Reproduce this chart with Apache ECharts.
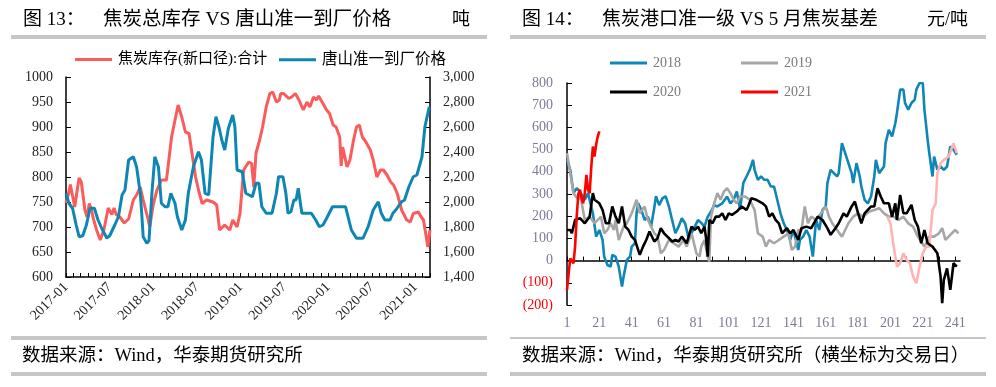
<!DOCTYPE html>
<html><head><meta charset="utf-8">
<script src="https://cdn.jsdelivr.net/npm/echarts@6/dist/echarts.min.js"></script>
<style>html,body{margin:0;padding:0;background:#fff}#c{width:996px;height:387px}</style>
</head><body><div id="c"></div>
<script>
// ---------- Chart 13: coke inventory vs Tangshan price (x = months since 2017-01) ----------
const invX = [0,0.4,0.6,0.9,1.2,1.5,1.8,2.1,2.6,2.9,3.2,3.5,3.7,4.2,4.7,5.2,5.8,6.3,6.6,6.9,7.4,8.0,8.6,9.25,9.7,10.2,10.6,11.3,11.5,12.0,12.5,13.1,13.8,14.5,15.4,15.9,16.4,16.9,17.3,17.8,18.2,18.7,19.3,20.2,20.7,21.1,21.8,22.5,22.9,23.5,23.9,24.4,25.1,25.5,25.8,26.1,26.6,27.0,27.5,28.0,28.4,28.9,29.3,29.5,29.9,30.6,31.0,31.5,32.0,32.6,33.1,33.5,34.0,34.4,34.7,35.3,35.8,36.2,36.7,37.1,37.6,37.8,38.0,38.6,39.0,39.5,39.9,40.3,40.7,41.2,41.8,42.2,42.7,43.2,43.6,44.1,44.6,45.0,45.5,46.1,46.8,47.3,47.7,48.4,48.8,49.1,49.4,49.7,50.0];
const invY = [748,770,785,762,740,770,798,790,734,720,747,735,720,694,674,694,738,725,738,725,720,708,716,754,764,780,754,714,700,746,774,794,794,880,944,920,890,887,848,800,774,747,754,750,744,694,704,694,714,700,727,814,830,827,780,848,874,900,940,967,970,950,954,967,967,957,960,967,954,934,950,940,960,954,962,947,934,927,904,900,880,822,860,820,834,874,900,904,880,870,854,834,800,814,814,804,790,784,767,734,714,710,727,730,720,714,688,660,694];
const priceX = [0,0.4,0.9,1.4,1.8,2.3,2.8,3.3,3.9,4.4,4.9,5.6,6.0,6.7,7.2,7.7,8.1,8.6,9.25,9.7,10.2,10.4,10.6,11.1,11.4,11.8,12.2,12.7,13.1,13.6,14.0,14.4,14.97,15.3,15.9,16.4,16.8,17.5,18.2,18.6,19.1,19.6,20.2,20.6,21.0,21.4,21.8,22.3,22.9,23.2,23.5,24.2,24.7,25.6,26.1,26.5,26.9,27.5,28.3,28.9,29.2,29.8,30.2,30.5,30.9,31.3,31.6,31.9,32.4,33.7,34.3,34.8,35.3,35.8,36.6,38.0,38.4,39.2,39.9,40.8,41.5,42.2,42.9,43.3,43.8,44.5,44.9,45.3,46.1,46.5,47.1,47.7,48.2,48.9,49.3,49.9];
const priceY = [2070,1990,1950,1816,1722,1730,1816,1950,1950,1856,1790,1712,1730,1816,1882,2056,2096,2336,2362,2280,2070,1910,1722,1670,1690,2070,2362,2280,1990,1962,1962,2070,1990,1882,1776,1856,2070,2282,2402,2336,2070,2056,2522,2682,2602,2496,2416,2588,2696,2602,2256,2242,2070,2042,2150,2150,1962,1910,1910,2070,2202,2202,2070,1910,1922,2016,2016,2110,1910,1910,1856,1802,1816,1870,1962,1962,1962,1776,1710,1710,1802,1936,2002,1910,1856,1856,1910,1936,2002,2016,2122,2202,2216,2362,2602,2762];
const invName = '焦炭库存(新口径):合计';
const priceName = '唐山准一到厂价格';
const leftLabelMonths = [0,6,12,18,24,30,36,42,48];
const leftTickLabels = ['2017-01','2017-07','2018-01','2018-07','2019-01','2019-07','2020-01','2020-07','2021-01'];

// ---------- Chart 14: coke port price vs May basis (x = trading day) ----------
const y2018X = [1,3,5,7,9,12,14,17,19,21,23,24,26,28,29,31,33,35,36,38,40,41,43,44,45,47,49,51,53,55,56,58,60,62,64,66,68,70,72,74,76,78,80,82,84,86,88,90,92,94,97,100,102,104,106,108,110,112,114,116,117,119,121,123,125,127,129,131,133,135,137,139,141,144,145,147,149,151,153,155,157,159,161,162,164,166,168,169,171,173,175,177,178,180,182,183,185,187,189,191,192,194,197,198,200,202,204,205,207,209,210,212,214,216,217,219,221,222,224,225,227,228,230,232,234,236,238,240,242];
const y2018Y = [454,409,304,326,311,274,304,213,108,138,93,18,-20,-27,26,18,-27,-117,-72,3,18,63,78,213,258,228,183,198,153,240,290,250,280,290,244,183,123,153,191,168,108,123,153,183,170,153,198,220,250,244,258,289,258,274,311,230,349,379,409,454,409,364,379,364,364,334,334,274,213,168,138,93,138,48,93,108,138,108,18,183,138,228,244,349,409,394,379,394,529,484,439,394,349,439,379,334,274,258,289,379,454,394,424,529,589,559,619,664,770,770,710,680,710,725,770,800,800,680,544,484,379,469,409,424,409,424,514,499,477];
const y2019X = [1,3,5,8,9,12,15,18,22,24,26,28,30,31,33,36,38,41,44,46,49,51,55,57,59,61,64,67,70,73,75,78,81,83,84,86,88,89,90,92,94,96,98,100,102,104,106,108,111,114,117,119,122,124,126,129,132,135,138,140,142,144,146,148,150,152,155,158,161,163,165,168,171,173,175,178,181,184,188,191,194,197,200,203,206,209,212,215,218,222,225,228,231,233,235,238,241,243];
const y2019Y = [484,394,304,274,304,183,198,168,198,123,138,168,138,183,93,153,168,213,274,213,244,183,123,108,33,48,93,78,63,93,63,123,33,18,63,93,18,-5,198,258,304,274,311,326,304,274,258,289,289,274,228,123,108,63,93,78,93,108,123,48,63,138,138,244,168,198,183,213,244,198,168,138,108,138,168,198,213,198,221,228,236,213,198,198,183,198,168,153,108,63,108,108,123,146,93,116,138,123];
const y2020X = [1,3,4,6,9,12,15,17,18,21,23,25,27,29,31,33,35,37,39,41,43,46,48,50,52,55,57,59,61,64,66,68,70,72,75,78,80,82,84,86,87,88,89,91,93,95,97,99,101,103,106,109,112,113,115,118,122,124,126,128,130,132,134,137,139,141,144,146,149,152,156,159,162,164,167,169,172,174,177,179,181,183,185,189,191,193,195,197,200,202,204,205,207,209,211,214,216,218,220,222,224,227,230,232,233,234,236,238,240,242];
const y2020Y = [138,138,123,183,191,168,198,304,274,258,228,168,168,244,198,168,244,153,138,108,93,26,63,93,131,86,101,146,123,101,86,93,86,108,78,153,138,153,123,153,100,18,183,168,198,198,213,183,213,206,221,244,228,244,281,274,258,244,198,213,183,168,123,146,123,138,93,146,153,146,198,183,146,116,146,168,213,198,244,266,213,168,213,244,244,326,289,258,258,198,258,183,296,213,213,251,183,153,78,138,78,63,33,-72,-192,-87,-35,-132,-12,-27];
const y2021X = [1,2,3,4,5,6,7,8,9,10,11,12,13,14,15,16,17,18,19,20,21];
const y2021Y = [-132,-60,10,18,-12,63,198,300,319,280,258,304,386,319,304,420,514,469,522,559,582];
const pinkX = [199,201,203,205,207,209,211,213,215,217,219,221,223,225,227,229,230,232,234,237,240,242];
const pinkY = [198,168,63,-27,-12,33,3,-12,-72,-102,-27,33,63,63,228,258,394,439,454,469,529,484];
const dayTicks = [1,11,21,31,41,51,61,71,81,91,101,111,121,131,141,151,161,171,181,191,201,211,221,231,241];
const dayLabels = [1,21,41,61,81,101,121,141,161,181,201,221,241];

const FONT = '"Liberation Serif","Noto Sans CJK SC",serif';
const zip = (xs, ys) => xs.map((x, i) => [x, ys[i]]);
const monthTicks = Array.from({length: 51}, (_, i) => i);

const chart = echarts.init(document.getElementById('c'), null, {renderer: 'canvas'});

const axisBase = {
  axisLine: {show: true, lineStyle: {color: '#000', width: 1.5}},
  splitLine: {show: false}
};

function legendAt(name, left, top, fontSize, color) {
  return {
    data: [name], left: left, top: top, padding: 0, itemGap: 0,
    icon: 'rect', itemWidth: 37, itemHeight: 3,
    textStyle: {fontFamily: FONT, fontSize: fontSize, color: color, padding: [0, 0, 0, 1]},
    selectedMode: false
  };
}

function txt(x, y, s, size, color) {
  return {type: 'text', x: x, y: y, silent: true,
    style: {text: s, fontFamily: FONT, fontSize: size, fill: color || '#000', verticalAlign: 'middle', align: 'left'}};
}
function bar(x, y, w, h, c) {
  return {type: 'rect', shape: {x: x, y: y, width: w, height: h}, silent: true, style: {fill: c || '#C6C6C6'}};
}

const option = {
  backgroundColor: '#fff',
  animation: false,
  grid: [
    {left: 66, right: 566, top: 77, bottom: 110},
    {left: 567, right: 36, top: 83, bottom: 82}
  ],
  legend: [
    legendAt(invName, 75, 52, 15, '#000'),
    legendAt(priceName, 279, 52, 15.5, '#000'),
    legendAt('2018', 610, 56, 14, '#7a7a7a'),
    legendAt('2019', 741, 56, 14, '#7a7a7a'),
    legendAt('2020', 610, 85, 14, '#7a7a7a'),
    legendAt('2021', 741, 85, 14, '#7a7a7a')
  ],
  xAxis: [
    Object.assign({}, axisBase, {
      gridIndex: 0, type: 'value', min: 0, max: 50,
      axisTick: {show: true, inside: true, length: 4, customValues: monthTicks, lineStyle: {color: '#000', width: 1}},
      axisLabel: {customValues: leftLabelMonths, rotate: 45, margin: 8,
        formatter: v => leftTickLabels[leftLabelMonths.indexOf(v)] || '',
        fontFamily: FONT, fontSize: 14, color: '#222'}
    }),
    Object.assign({}, axisBase, {
      gridIndex: 1, type: 'value', min: 1, max: 244,
      axisTick: {show: true, inside: true, length: 4, customValues: dayTicks, lineStyle: {color: '#000', width: 1}},
      axisLabel: {customValues: dayLabels, margin: 11, fontFamily: FONT, fontSize: 14, color: '#7b7b97'}
    })
  ],
  yAxis: [
    Object.assign({}, axisBase, {
      gridIndex: 0, type: 'value', min: 600, max: 1000, interval: 50, position: 'left',
      axisTick: {show: true, inside: true, length: 5, lineStyle: {color: '#000'}},
      axisLabel: {margin: 13, fontFamily: FONT, fontSize: 14, color: '#222', formatter: v => String(v)}
    }),
    Object.assign({}, axisBase, {
      gridIndex: 0, type: 'value', min: 1400, max: 3000, interval: 200, position: 'right',
      axisTick: {show: true, inside: true, length: 5, lineStyle: {color: '#000'}},
      axisLabel: {margin: 13, fontFamily: FONT, fontSize: 14, color: '#222',
        formatter: v => v.toLocaleString('en-US')}
    }),
    Object.assign({}, axisBase, {
      gridIndex: 1, type: 'value', min: -200, max: 800, interval: 100, position: 'left',
      axisTick: {show: true, inside: true, length: 5, lineStyle: {color: '#000'}},
      axisLabel: {margin: 14, fontFamily: FONT, fontSize: 14,
        color: v => (Number(v) < 0 || String(v).indexOf('(') === 0) ? '#FF0000' : '#7b7b97',
        formatter: v => v < 0 ? '(' + (-v) + ')' : String(v)}
    })
  ],
  series: [
    {name: invName, type: 'line', xAxisIndex: 0, yAxisIndex: 0, data: zip(invX, invY),
      showSymbol: false, lineStyle: {color: '#FA5C5C', width: 3}, itemStyle: {color: '#FA5C5C'}},
    {name: priceName, type: 'line', xAxisIndex: 0, yAxisIndex: 1, data: zip(priceX, priceY),
      showSymbol: false, lineStyle: {color: '#0E86B4', width: 3}, itemStyle: {color: '#0E86B4'}},
    {name: '2018', type: 'line', xAxisIndex: 1, yAxisIndex: 2, data: zip(y2018X, y2018Y),
      showSymbol: false, lineStyle: {color: '#0F86B5', width: 2.6}, itemStyle: {color: '#0F86B5'}},
    {name: '2019', type: 'line', xAxisIndex: 1, yAxisIndex: 2, data: zip(y2019X, y2019Y),
      showSymbol: false, lineStyle: {color: '#A6A6A6', width: 2.6}, itemStyle: {color: '#A6A6A6'}},
    {name: 'prev', type: 'line', xAxisIndex: 1, yAxisIndex: 2, data: zip(pinkX, pinkY),
      showSymbol: false, lineStyle: {color: '#FFB3B3', width: 2.6}, itemStyle: {color: '#FFB3B3'}},
    {name: '2020', type: 'line', xAxisIndex: 1, yAxisIndex: 2, data: zip(y2020X, y2020Y),
      showSymbol: false, lineStyle: {color: '#000000', width: 2.6}, itemStyle: {color: '#000000'}},
    {name: '2021', type: 'line', xAxisIndex: 1, yAxisIndex: 2, data: zip(y2021X, y2021Y),
      showSymbol: false, lineStyle: {color: '#FF0000', width: 2.6}, itemStyle: {color: '#FF0000'}}
  ],
  graphic: [
    txt(23, 20, '图 13：', 19),
    txt(103, 20, '焦炭总库存 VS 唐山准一到厂价格', 19.5),
    txt(452, 20, '吨', 18),
    bar(11, 35, 476, 4),
    txt(522, 20, '图 14：', 19),
    txt(602, 20, '焦炭港口准一级 VS 5 月焦炭基差', 19),
    txt(927, 20, '元/吨', 18),
    bar(510, 35, 476, 4),
    bar(11, 336, 476, 4),
    bar(510, 337, 476, 2),
    txt(22, 356, '数据来源：Wind，华泰期货研究所', 18.5),
    txt(522, 356, '数据来源：Wind，华泰期货研究所（横坐标为交易日）', 18.5),
    bar(11, 372, 476, 4),
    bar(510, 372, 476, 4)
  ]
};
chart.setOption(option);
</script>
</body></html>
